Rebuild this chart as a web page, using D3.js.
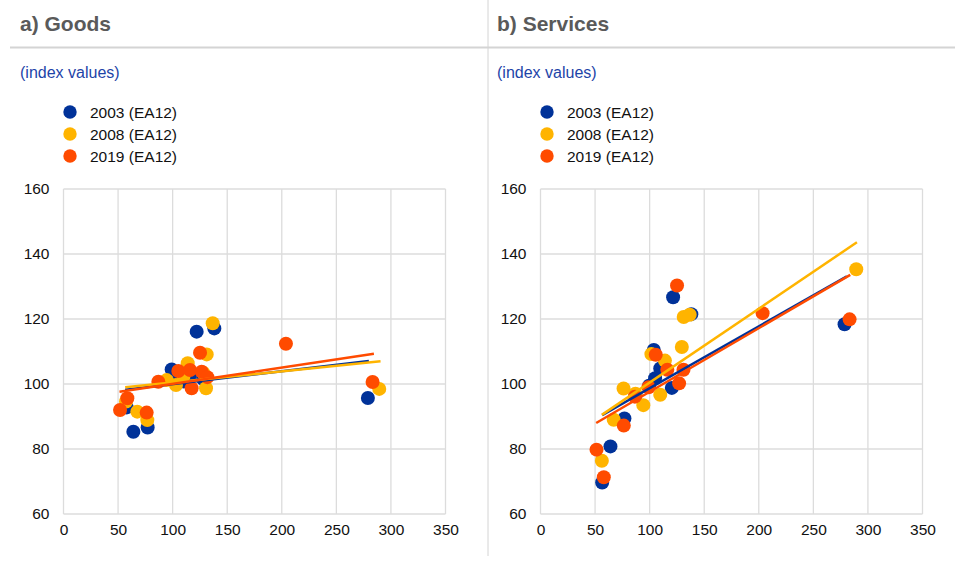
<!DOCTYPE html>
<html><head><meta charset="utf-8">
<script src="https://cdn.jsdelivr.net/npm/d3@7"></script>
<style>
html,body{margin:0;padding:0;background:#fff;}
svg{display:block;font-family:"Liberation Sans",Arial,Helvetica,sans-serif;}
</style></head>
<body><svg id="c" width="955" height="563"></svg>
<script>
// ---- data ----
const seriesNames = ["2003 (EA12)", "2008 (EA12)", "2019 (EA12)"];
const seriesColors = ["#003299", "#ffb400", "#ff4b00"];
const panelTitles = ["a) Goods", "b) Services"];
const xTicks = [0, 50, 100, 150, 200, 250, 300, 350];
const yTicks = [60, 80, 100, 120, 140, 160];

// Goods: [x, y]
const goods2003 = [[57.9,92.8],[64.0,85.3],[77.1,86.6],[99.1,104.5],[103,100.5],[110,100.8],[116,102.8],[122,116.1],[128,101.5],[138.2,117.1],[278.9,95.7]];
const goods2008 = [[57.3,94.6],[67.6,91.5],[76.8,88.9],[94.5,101.2],[103.1,99.7],[110,102.5],[113.8,106.4],[128,103.5],[130.6,98.7],[131.2,109.1],[136.7,118.7],[289.3,98.5]];
const goods2019 = [[51.8,92.0],[58.5,95.6],[76.2,91.2],[86.9,100.7],[105.2,104.0],[115.9,104.3],[117.4,98.7],[125.1,109.6],[126.6,103.8],[131.8,102.1],[203.8,112.4],[283.2,100.6]];
// Services: [x, y]
const serv2003 = [[56.5,69.7],[64.1,80.8],[76.9,89.4],[87,96.5],[99.5,99.5],[103.8,110.5],[105,101.8],[109.7,104.8],[120.3,98.8],[121.5,126.7],[138.2,121.5],[278.6,118.4]];
const serv2008 = [[56.2,76.4],[67.1,89.0],[76.1,98.6],[87,97],[94.2,93.5],[101.6,109.2],[109.7,96.7],[114,107.2],[129.5,111.4],[131.2,120.6],[136.7,121.3],[289.3,135.3]];
const serv2019 = [[51.3,79.8],[58.0,71.3],[76.3,87.2],[86.5,96.1],[99,99],[105.6,109.0],[116.2,104.4],[125.1,130.3],[127.0,100.2],[131.0,104.4],[203.5,121.8],[283.2,119.9]];

// Trend lines: [[x0,y0],[x1,y1]]
const goodsTrend = [[[56.5,98.2],[279.8,107.1]], [[56.5,99.0],[290.5,107.0]], [[51.3,97.6],[284.4,109.3]]];
const servTrend  = [[[56.5,90.4],[280.7,133.1]], [[56.2,90.5],[289.9,143.6]], [[51.0,88.0],[283.8,133.6]]];

const panels = [
  {title: panelTitles[0], series: [goods2003, goods2008, goods2019], trends: goodsTrend, ox: 0},
  {title: panelTitles[1], series: [serv2003, serv2008, serv2019], trends: servTrend, ox: 477}
];

const svg = d3.select("#c");
// layout lines
svg.append("line").attr("x1",488).attr("x2",488).attr("y1",0).attr("y2",556).attr("stroke","#d4d4d4").attr("stroke-width",1);
svg.append("line").attr("x1",10).attr("x2",955).attr("y1",47.5).attr("y2",47.5).attr("stroke","#d4d4d4").attr("stroke-width",2);

panels.forEach(p => {
  const g = svg.append("g").attr("transform", `translate(${p.ox},0)`);
  g.append("text").attr("x", 20).attr("y", 30.5).attr("font-size", 21).attr("font-weight", "bold")
    .attr("fill", "#5a5a5a").text(p.title);
  g.append("text").attr("x", 20).attr("y", 78).attr("font-size", 16).attr("fill", "#1d44a8").text("(index values)");
  // legend
  seriesNames.forEach((n, i) => {
    const ly = 112 + i * 22;
    g.append("circle").attr("cx", 70).attr("cy", ly).attr("r", 6.7).attr("fill", seriesColors[i]);
    g.append("text").attr("x", 90).attr("y", ly + 5.5).attr("font-size", 15.5).attr("fill", "#111").text(n);
  });

  const x = d3.scaleLinear().domain([0, 350]).range([63.5, 445.5]);
  const y = d3.scaleLinear().domain([60, 160]).range([514, 189]);

  // grid
  g.append("g").selectAll("line").data(xTicks).join("line")
    .attr("x1", d => x(d)).attr("x2", d => x(d)).attr("y1", y(60)).attr("y2", y(160))
    .attr("stroke", "#dcdcdc").attr("stroke-width", 1.3);
  g.append("g").selectAll("line").data(yTicks).join("line")
    .attr("x1", x(0)).attr("x2", x(350)).attr("y1", d => y(d)).attr("y2", d => y(d))
    .attr("stroke", "#dcdcdc").attr("stroke-width", 1.3);

  // axes labels via d3 axes
  const xa = g.append("g").attr("transform", `translate(0,${y(60)})`)
    .call(d3.axisBottom(x).tickValues(xTicks).tickSize(0).tickPadding(10).tickFormat(d3.format("d")));
  const ya = g.append("g").attr("transform", `translate(${x(0)},0)`)
    .call(d3.axisLeft(y).tickValues(yTicks).tickSize(0).tickPadding(14).tickFormat(d3.format("d")));
  [xa, ya].forEach(a => {
    a.select(".domain").remove();
    a.selectAll("text").attr("font-size", 15.5).attr("fill", "#111")
      .attr("font-family", "'Liberation Sans',Arial,sans-serif");
  });

  // points
  p.series.forEach((s, i) => {
    g.append("g").selectAll("circle").data(s).join("circle")
      .attr("cx", d => x(d[0])).attr("cy", d => y(d[1])).attr("r", 7)
      .attr("fill", seriesColors[i]);
  });
  // trend lines
  const line = d3.line().x(d => x(d[0])).y(d => y(d[1]));
  p.trends.forEach((t, i) => {
    g.append("path").attr("d", line(t)).attr("fill", "none")
      .attr("stroke", seriesColors[i]).attr("stroke-width", 2.5);
  });
});
</script></body></html>
